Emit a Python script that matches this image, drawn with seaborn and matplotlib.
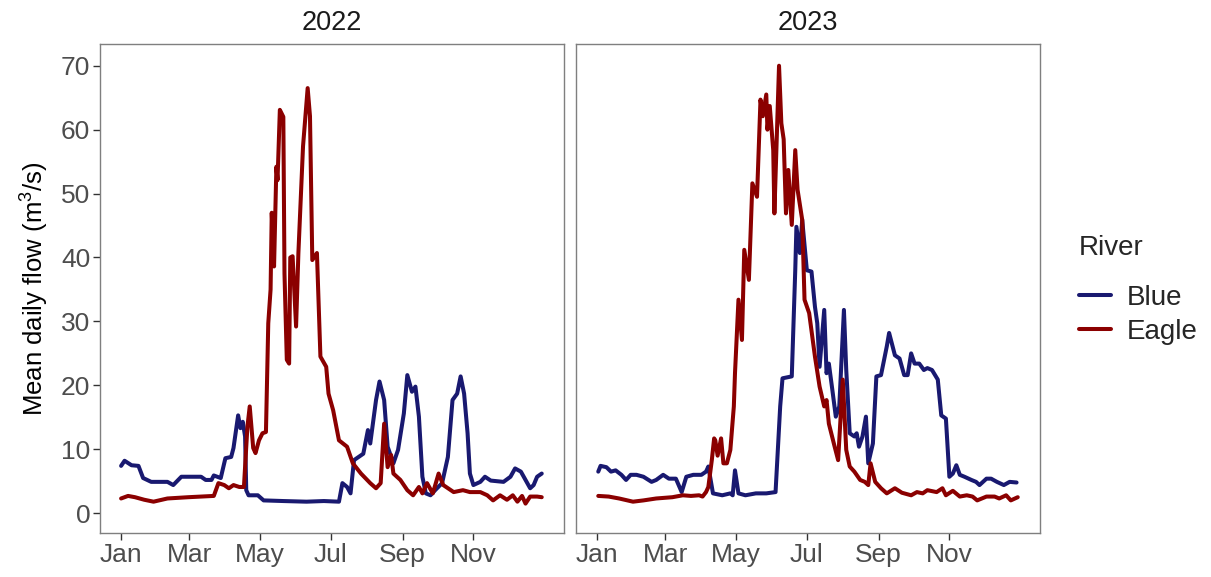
import numpy as np
import pandas as pd
import matplotlib
matplotlib.use("Agg")
import matplotlib.pyplot as plt
import seaborn as sns
from matplotlib.lines import Line2D

# ---- data: day of year (0 = 1 Jan) and mean daily flow (m3/s) ----
rivers = ["Blue", "Eagle"]
years = [2022, 2023]

blue_2022_day = [0, 3, 9, 15, 19, 26, 40, 45, 52, 69, 73, 78, 80, 86, 90, 95, 97, 101, 103,
                 105, 107, 108, 110, 118, 123, 140, 160, 175, 188, 191, 195, 198, 201, 205,
                 209, 213, 215, 220, 223, 227, 230, 235, 239, 244, 247, 251, 254, 257, 260,
                 263, 267, 271, 277, 282, 286, 290, 293, 296, 299, 301, 304, 310, 314, 319,
                 330, 336, 340, 345, 349, 353, 356, 359, 363]
blue_2022_flow = [7.4, 8.2, 7.5, 7.4, 5.5, 4.9, 4.9, 4.4, 5.7, 5.7, 5.2, 5.2, 5.9, 5.5, 8.6,
                  8.8, 10.2, 15.3, 13.3, 14.3, 12.0, 3.6, 2.8, 2.8, 2.0, 1.9, 1.8, 1.9, 1.8,
                  4.7, 4.1, 3.1, 8.3, 8.8, 9.3, 13.0, 10.9, 17.7, 20.6, 17.7, 10.4, 7.8, 9.9,
                  15.6, 21.6, 19.0, 19.8, 15.1, 5.7, 3.1, 2.8, 3.6, 4.7, 8.8, 17.7, 18.7,
                  21.4, 18.7, 12.5, 6.2, 4.4, 4.9, 5.7, 5.1, 4.9, 5.7, 7.0, 6.5, 5.2, 3.9,
                  4.4, 5.7, 6.2]

eagle_2022_day = [0, 6, 12, 20, 28, 40, 58, 69, 80, 84, 89, 93, 97, 102, 106, 109, 111, 114,
                  116, 119, 122, 125, 127, 129, 130, 132, 134, 135, 137, 140, 141, 143, 145,
                  146, 148, 151, 153, 157, 161, 163, 165, 169, 172, 177, 179, 183, 188, 195,
                  200, 207, 215, 220, 224, 227, 230, 233, 235, 241, 247, 252, 257, 260, 264,
                  269, 274, 278, 287, 295, 301, 310, 316, 321, 327, 333, 338, 342, 346, 349,
                  353, 359, 363]
eagle_2022_flow = [2.3, 2.7, 2.5, 2.1, 1.8, 2.3, 2.5, 2.6, 2.7, 4.7, 4.4, 3.9, 4.4, 4.1, 4.1,
                   13.5, 16.7, 10.2, 9.4, 11.4, 12.5, 12.7, 29.7, 35.0, 47.0, 38.6, 54.2,
                   52.1, 63.1, 62.0, 37.5, 24.0, 23.4, 40.0, 40.2, 29.2, 40.7, 57.4, 66.5,
                   62.1, 39.6, 40.7, 24.5, 22.9, 18.7, 16.1, 11.4, 10.4, 7.8, 6.2, 4.7, 3.9,
                   4.7, 14.0, 7.2, 9.1, 6.2, 5.2, 3.6, 2.8, 4.1, 3.1, 4.7, 3.1, 6.2, 4.4, 3.3,
                   3.6, 3.3, 3.3, 2.8, 2.0, 2.8, 2.1, 2.8, 1.8, 2.7, 1.5, 2.6, 2.6, 2.5]

blue_2023_day = [1, 3, 8, 12, 16, 21, 25, 29, 34, 40, 47, 51, 57, 62, 68, 73, 77, 83, 90, 94,
                 96, 98, 100, 108, 115, 117, 119, 122, 128, 137, 146, 154, 158, 160, 168, 171,
                 172, 175, 177, 181, 185, 188, 190, 192, 196, 198, 200, 203, 206, 209, 213,
                 215, 218, 222, 224, 226, 229, 232, 234, 238, 241, 245, 250, 252, 257, 261,
                 265, 268, 271, 274, 278, 282, 285, 289, 294, 297, 301, 304, 307, 310, 313,
                 317, 323, 327, 330, 336, 340, 345, 351, 356, 362]
blue_2023_flow = [6.5, 7.4, 7.2, 6.5, 6.7, 6.0, 5.2, 6.0, 6.0, 5.7, 4.9, 5.2, 6.0, 5.4, 5.4,
                  3.3, 5.7, 6.0, 6.0, 6.5, 7.3, 5.2, 3.1, 2.8, 3.1, 2.8, 6.7, 3.1, 2.8, 3.1,
                  3.1, 3.3, 16.7, 21.1, 21.4, 38.0, 44.8, 40.7, 45.9, 38.0, 37.8, 32.3, 29.7,
                  22.9, 31.8, 21.9, 23.4, 19.3, 15.1, 16.7, 31.8, 22.4, 12.5, 12.0, 12.5,
                  10.4, 12.0, 15.1, 7.8, 10.9, 21.4, 21.6, 26.1, 28.2, 24.7, 24.2, 21.6, 21.6,
                  25.0, 23.4, 23.4, 22.4, 22.7, 22.4, 20.9, 15.3, 14.8, 5.7, 6.2, 7.5, 6.0,
                  5.7, 5.2, 4.9, 4.4, 5.4, 5.4, 4.9, 4.4, 4.9, 4.8]

eagle_2023_day = [1, 10, 19, 31, 40, 51, 65, 74, 81, 88, 91, 94, 96, 99, 101, 102, 104, 107,
                  109, 112, 115, 118, 119, 122, 125, 127, 131, 134, 138, 141, 143, 146, 147,
                  149, 152, 153, 155, 157, 159, 161, 163, 165, 168, 171, 173, 177, 179, 183,
                  188, 192, 196, 198, 200, 205, 208, 212, 215, 218, 222, 227, 231, 234, 236,
                  240, 245, 250, 257, 263, 271, 276, 281, 285, 293, 298, 301, 307, 313, 319,
                  324, 328, 336, 343, 347, 353, 357, 363]
eagle_2023_flow = [2.7, 2.6, 2.3, 1.8, 2.0, 2.3, 2.5, 2.8, 2.7, 2.8, 2.6, 3.3, 4.1, 8.3, 11.7,
                   11.4, 9.0, 11.7, 7.8, 7.8, 9.9, 16.7, 21.9, 33.4, 27.1, 41.2, 36.5, 51.6,
                   49.5, 64.7, 62.1, 65.5, 60.0, 63.7, 56.8, 46.9, 58.5, 70.0, 61.0, 58.5,
                   46.9, 53.7, 45.1, 56.8, 50.6, 45.9, 33.4, 31.3, 24.5, 19.8, 16.7, 17.7,
                   14.0, 10.4, 8.3, 20.9, 9.9, 7.3, 6.5, 5.2, 4.9, 4.4, 7.8, 4.9, 3.9, 3.1,
                   3.9, 3.2, 2.8, 3.3, 3.1, 3.6, 3.3, 3.9, 2.8, 3.5, 2.6, 2.8, 2.6, 2.0, 2.6,
                   2.6, 2.3, 2.8, 2.0, 2.5]

month_ticks = [0, 59, 120, 181, 243, 304]
month_labels = ["Jan", "Mar", "May", "Jul", "Sep", "Nov"]
y_ticks = [0, 10, 20, 30, 40, 50, 60, 70]

series = {
    ("Blue", 2022): (blue_2022_day, blue_2022_flow),
    ("Eagle", 2022): (eagle_2022_day, eagle_2022_flow),
    ("Blue", 2023): (blue_2023_day, blue_2023_flow),
    ("Eagle", 2023): (eagle_2023_day, eagle_2023_flow),
}
frames = []
for (river, year), (d, f) in series.items():
    frames.append(pd.DataFrame({"day": d, "flow": f, "River": river, "year": year}))
flows = pd.concat(frames, ignore_index=True)

palette = {"Blue": "#191970", "Eagle": "#8B0000"}
line_w = 2.9

# ---- styling ----
sns.set_theme(style="white")
plt.rcParams["font.family"] = ["Liberation Sans", "DejaVu Sans"]
plt.rcParams["mathtext.fontset"] = "custom"
plt.rcParams["mathtext.rm"] = "Liberation Sans"

fig = plt.figure(figsize=(12.11, 5.77), dpi=100)
W, H = 1211, 577
panel_w, panel_top, panel_bot = 464, 44, 533
lefts = [100, 576]
axes = []
for left in lefts:
    ax = fig.add_axes([left / W, (H - panel_bot) / H, panel_w / W, (panel_bot - panel_top) / H])
    axes.append(ax)

tick_col = "#4D4D4D"
for ax, year in zip(axes, years):
    sub = flows[flows["year"] == year]
    sns.lineplot(data=sub, x="day", y="flow", hue="River", hue_order=rivers,
                 palette=palette, linewidth=line_w, ax=ax, legend=False, estimator=None,
                 sort=True)
    ax.set_xlim(-18.2, 382.2)
    ax.set_ylim(-3.1, 73.4)
    ax.set_xticks(month_ticks)
    ax.set_xticklabels(month_labels)
    ax.set_yticks(y_ticks)
    ax.set_xlabel("")
    ax.set_ylabel("")
    ax.grid(False)
    for s in ax.spines.values():
        s.set_color("#7F7F7F")
        s.set_linewidth(1.0)
    ax.tick_params(axis="both", which="major", direction="out", length=5, width=1,
                   color="#333333", labelcolor=tick_col, labelsize=19, pad=2,
                   bottom=True, left=True)
    ax.set_title(str(year), fontsize=19.5, color="#1A1A1A", pad=10)

axes[1].tick_params(axis="y", left=False, labelleft=False)
axes[0].set_ylabel("Mean daily flow (m$^{3}$/s)", fontsize=18.5, color="black", labelpad=8)

handles = [Line2D([], [], color=palette[r], linewidth=line_w) for r in rivers]
leg = fig.legend(handles, rivers, title="River", loc="upper left",
                 bbox_to_anchor=(1057 / W, (H - 213) / H), frameon=False,
                 fontsize=20, title_fontsize=20, handlelength=1.15, handletextpad=0.55,
                 labelspacing=0.3, borderpad=0.3)
leg._legend_box.align = "left"
leg._legend_box.sep = 17

fig.savefig("out.png", dpi=100)
